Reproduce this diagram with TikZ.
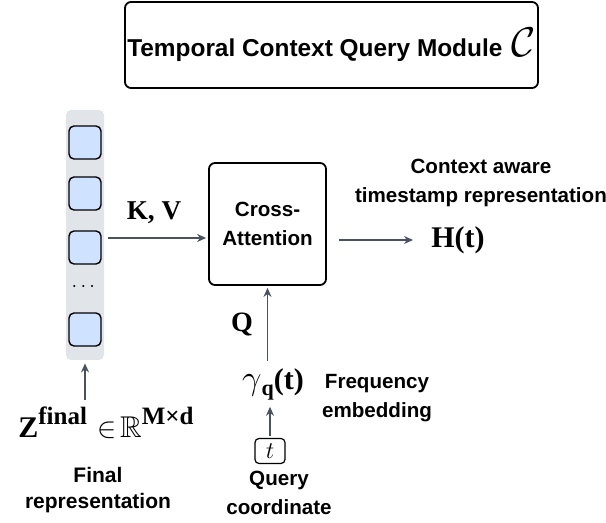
\documentclass[tikz,border=0pt]{standalone}
\usepackage{amsmath}
\usepackage{amssymb}
\usepackage{fontspec}
\newfontfamily\labelfont{Liberation Sans}
\newfontfamily\symbfont{Liberation Serif}
\usepackage{tikz}
\usetikzlibrary{arrows.meta}
\definecolor{arrowgray}{HTML}{4A5260}
\definecolor{colgray}{HTML}{E1E4E9}
\definecolor{cellblue}{HTML}{CFE2FF}

\begin{document}
\begin{tikzpicture} [x=0.5pt, y=-0.5pt, >={Stealth[length=4.5pt, width=4pt]},
	lbl/.style={font=\labelfont\bfseries\fontsize{10.3}{14.5}\selectfont, align=center},
	symb/.style={font=\symbfont\bfseries\fontsize{15}{17}\selectfont},
	cell/.style={draw, fill=cellblue, rounded corners=2.5pt, minimum width=16pt, minimum height=16.5pt, line width=0.7pt},
	conn/.style={->, draw=arrowgray, line width=0.65pt}]
		\useasboundingbox (0, 0) rectangle (606, 523);
		% module title
		\node [draw, rounded corners=3pt, line width=0.9pt, minimum width=206.5pt, minimum height=43pt, inner sep=0pt] (module) at (331.5, 45)
			{{\labelfont\bfseries\fontsize{12.2}{14}\selectfont Temporal Context Query Module}\hspace{4.5pt}{\fontsize{21}{22}\selectfont$\mathcal{C}$}};
		% stacked latent tokens
		\node [fill=colgray, rounded corners=2.5pt, minimum width=19pt, minimum height=125pt] (column) at (85, 235) {};
		\node [cell] (cell1) at (85, 142.5) {};
		\node [cell] (cell2) at (85, 193.5) {};
		\node [cell] (cell3) at (85, 247.5) {};
		\node (dots) at (85, 287) {$\cdots$};
		\node [cell] (cell4) at (85, 329.5) {};
		\node [symb] (zfinal) at (106, 423)
			{Z\raisebox{6.5pt}{\fontsize{12.5}{13}\selectfont final}\hspace{5pt}{\mdseries$\in$\hspace{2pt}$\mathbb{R}$}\raisebox{6.5pt}{\fontsize{12.5}{13}\selectfont M×d}};
		\node [lbl, font=\labelfont\bfseries\fontsize{10.5}{13}\selectfont] (finallbl) at (98, 490) {Final\\representation};
		\draw [conn] (zfinal.north -| column.south) -- ([yshift=-1.5pt]column.south);
		% cross attention
		\node [draw, rounded corners=3pt, line width=0.9pt, minimum width=58.5pt, minimum height=61pt, lbl] (cross) at (267.5, 224) {Cross-\\Attention};
		\node [symb, font=\symbfont\bfseries\fontsize{13.6}{15}\selectfont] (kv) at (154, 213) {K, V};
		\draw [conn] ([xshift=2pt]column.east |- 0, 238) -- ([xshift=-1pt]cross.west |- 0, 238);
		\node [symb, anchor=west, inner sep=1pt] (hout) at (429, 240) {H(t)};
		\node [lbl] (ctxlbl) at (481, 183) {Context aware\\timestamp representation};
		\draw [conn, shorten >=8pt] ([xshift=6pt]cross.east |- hout) -- (hout.west);
		% query branch
		\node [symb, font=\symbfont\bfseries\fontsize{14}{16}\selectfont] (qlbl) at (242, 325) {Q};
		\node [symb] (gamma) at (273, 384) {{\fontsize{16}{17}\selectfont$\gamma$}\raisebox{-3pt}{\fontsize{11}{12}\selectfont q}(t)};
		\node [lbl] (freqlbl) at (377, 398) {Frequency\\embedding};
		\draw [conn] (gamma.north -| cross.south) -- ([yshift=-1pt]cross.south);
		\node [draw, rounded corners=2pt, line width=0.6pt, minimum width=15pt, minimum height=12.5pt, inner sep=0pt] (tbox) at (270, 451) {\fontsize{13}{14}\selectfont$t$};
		\draw [conn] ([yshift=1pt]tbox.north) -- (gamma.south -| tbox.north);
		\node [lbl] (querylbl) at (279, 493) {Query\\coordinate};
\end{tikzpicture}
\end{document}
